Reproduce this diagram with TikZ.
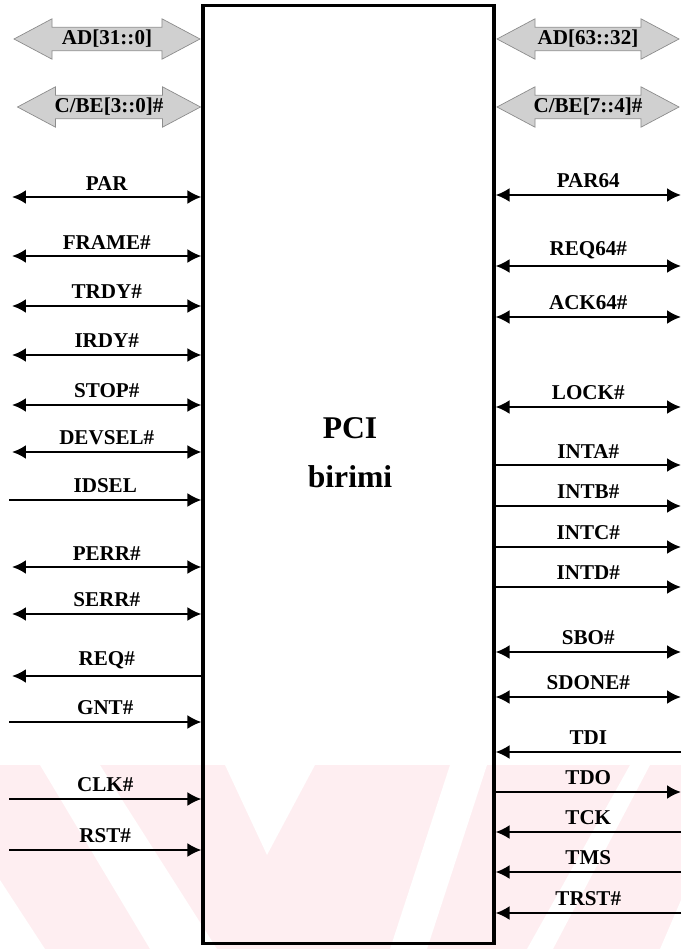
\documentclass[tikz,border=0pt]{standalone}
\usepackage{fontspec}
\setmainfont{Liberation Serif}
\usepackage{tikz}
\usetikzlibrary{arrows.meta,shapes.arrows}
\definecolor{GriYol}{RGB}{208,208,208}
\definecolor{GriKenar}{RGB}{140,140,140}
\definecolor{PembeFiligran}{RGB}{254,238,241}

\begin{document}
\begin{tikzpicture}[x=0.02cm,y=-0.02cm,>={Latex[length=2.8mm,width=2.8mm]},
  every node/.style={font=\fontsize{12}{14}\selectfont\bfseries},
  sig/.style={line width=1.3pt},
  bus/.style={double arrow,draw=GriKenar,fill=GriYol,double arrow head extend=0.17cm,
    double arrow tip angle=56,inner xsep=0pt,inner ysep=1.5pt}]
  \useasboundingbox (0,0) rectangle (681,949);
  % filigran (arka plan)
  \fill[PembeFiligran] (0,765) rectangle (681,949);
  \fill[white] (40,765) -- (100,765) -- (217,949) -- (150,949) -- cycle;
  \fill[white] (0,880) -- (45,949) -- (0,949) -- cycle;
  \fill[white] (225,765) -- (315,765) -- (267,855) -- cycle;
  \fill[white] (450,765) -- (487,765) -- (427,949) -- (390,949) -- cycle;
  \fill[white] (630,765) -- (650,765) -- (553,949) -- (527,949) -- cycle;
  \fill[white] (681,900) -- (681,949) -- (660,949) -- cycle;

  % PCI birimi
  \node[draw,line width=1.8pt,minimum width=5.82cm,minimum height=18.78cm,inner sep=0pt] (unit) at (348.5,474.5) {};
  \node[font=\fontsize{18}{20}\selectfont\bfseries] (pci) at (350,428) {PCI};
  \node[font=\fontsize{18}{20}\selectfont\bfseries] (birimi) at (350,477) {birimi};

  % yollar
  \node[bus,minimum height=3.72cm] (adlo) at (107,39) {AD[31::0]};
  \node[bus,minimum height=3.66cm] (cbelo) at (109,107) {C/BE[3::0]\#};
  \node[bus,minimum height=3.64cm] (adhi) at (588,39) {AD[63::32]};
  \node[bus,minimum height=3.64cm] (cbehi) at (588,107) {C/BE[7::4]\#};

  % sol taraf
  \coordinate (par) at (12,197);
  \draw[sig,<->] (par) -- (par -| unit.west) node[midway,above] (lpar) {PAR};
  \coordinate (frame) at (12,256);
  \draw[sig,<->] (frame) -- (frame -| unit.west) node[midway,above] (lframe) {FRAME\#};
  \coordinate (trdy) at (12,306);
  \draw[sig,<->] (trdy) -- (trdy -| unit.west) node[midway,above] (ltrdy) {TRDY\#};
  \coordinate (irdy) at (12,355);
  \draw[sig,<->] (irdy) -- (irdy -| unit.west) node[midway,above] (lirdy) {IRDY\#};
  \coordinate (stop) at (12,405);
  \draw[sig,<->] (stop) -- (stop -| unit.west) node[midway,above] (lstop) {STOP\#};
  \coordinate (devsel) at (12,452);
  \draw[sig,<->] (devsel) -- (devsel -| unit.west) node[midway,above] (ldevsel) {DEVSEL\#};
  \coordinate (idsel) at (9,500);
  \draw[sig,->] (idsel) -- (idsel -| unit.west) node[midway,above] (lidsel) {IDSEL};
  \coordinate (perr) at (12,567);
  \draw[sig,<->] (perr) -- (perr -| unit.west) node[midway,above] (lperr) {PERR\#};
  \coordinate (serr) at (12,614);
  \draw[sig,<->] (serr) -- (serr -| unit.west) node[midway,above] (lserr) {SERR\#};
  \coordinate (req) at (12,676);
  \draw[sig,<-] (req) -- (req -| unit.west) node[midway,above] (lreq) {REQ\#};
  \coordinate (gnt) at (9,722);
  \draw[sig,->] (gnt) -- (gnt -| unit.west) node[midway,above] (lgnt) {GNT\#};
  \coordinate (clk) at (9,799);
  \draw[sig,->] (clk) -- (clk -| unit.west) node[midway,above] (lclk) {CLK\#};
  \coordinate (rst) at (9,850);
  \draw[sig,->] (rst) -- (rst -| unit.west) node[midway,above] (lrst) {RST\#};

  % sag taraf
  \coordinate (par64) at (681,195);
  \draw[sig,<->] (par64) -- (par64 -| unit.east) node[midway,above] (lpar64) {PAR64};
  \coordinate (req64) at (681,266);
  \draw[sig,<->] (req64) -- (req64 -| unit.east) node[midway,above] (lreq64) {REQ64\#};
  \coordinate (ack64) at (681,317);
  \draw[sig,<->] (ack64) -- (ack64 -| unit.east) node[midway,above] (lack64) {ACK64\#};
  \coordinate (lock) at (681,407);
  \draw[sig,<->] (lock) -- (lock -| unit.east) node[midway,above] (llock) {LOCK\#};
  \coordinate (inta) at (681,465);
  \draw[sig,<-] (inta) -- (inta -| unit.east) node[midway,above] (linta) {INTA\#};
  \coordinate (intb) at (681,506);
  \draw[sig,<-] (intb) -- (intb -| unit.east) node[midway,above] (lintb) {INTB\#};
  \coordinate (intc) at (681,547);
  \draw[sig,<-] (intc) -- (intc -| unit.east) node[midway,above] (lintc) {INTC\#};
  \coordinate (intd) at (681,587);
  \draw[sig,<-] (intd) -- (intd -| unit.east) node[midway,above] (lintd) {INTD\#};
  \coordinate (sbo) at (681,652);
  \draw[sig,<->] (sbo) -- (sbo -| unit.east) node[midway,above] (lsbo) {SBO\#};
  \coordinate (sdone) at (681,697);
  \draw[sig,<->] (sdone) -- (sdone -| unit.east) node[midway,above] (lsdone) {SDONE\#};
  \coordinate (tdi) at (681,752);
  \draw[sig,->] (tdi) -- (tdi -| unit.east) node[midway,above] (ltdi) {TDI};
  \coordinate (tdo) at (681,792);
  \draw[sig,<-] (tdo) -- (tdo -| unit.east) node[midway,above] (ltdo) {TDO};
  \coordinate (tck) at (681,832);
  \draw[sig,->] (tck) -- (tck -| unit.east) node[midway,above] (ltck) {TCK};
  \coordinate (tms) at (681,872);
  \draw[sig,->] (tms) -- (tms -| unit.east) node[midway,above] (ltms) {TMS};
  \coordinate (trst) at (681,913);
  \draw[sig,->] (trst) -- (trst -| unit.east) node[midway,above] (ltrst) {TRST\#};
\end{tikzpicture}
\end{document}
